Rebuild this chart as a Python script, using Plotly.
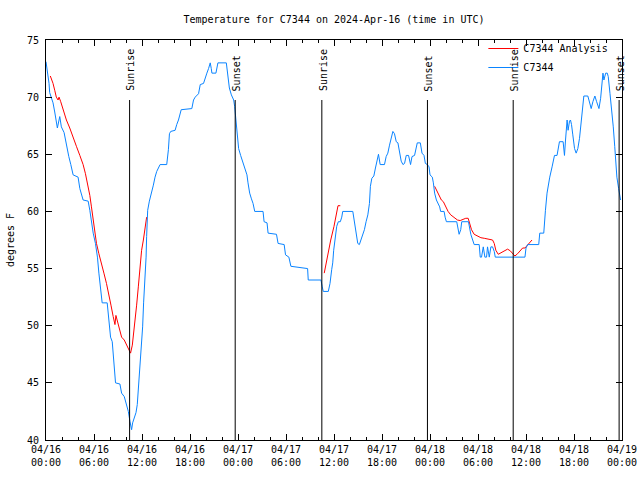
import datetime as dt
import plotly.graph_objects as go

# ---- data (hours after 2024-04-16 00:00 UTC, temperature in F) ----
obs_hours = [0.00, 0.16, 0.29, 0.38, 0.46, 0.66, 0.88, 1.09, 1.29, 1.42, 1.72, 1.92, 2.26, 2.55, 2.85, 3.10,
             3.39, 4.01, 4.23, 4.64, 5.27, 5.48, 5.68, 5.90, 6.18, 6.43, 6.61, 6.81, 7.02, 7.65, 7.86, 8.07,
             8.28, 8.44, 8.57, 8.69, 9.24, 9.45, 9.78, 9.95, 10.12, 10.29, 10.50, 10.70, 10.83, 11.04, 11.25,
             11.41, 11.54, 11.70, 11.83, 11.95, 12.08, 12.20, 12.38, 12.51, 12.58, 12.71, 12.92, 13.21, 13.42,
             13.63, 13.84, 14.26, 15.09, 15.30, 15.43, 15.59, 16.14, 16.34, 16.56, 16.90, 18.23, 18.44, 18.65,
             19.07, 19.28, 19.69, 19.91, 20.11, 20.32, 20.53, 20.66, 20.74, 21.24, 21.49, 22.54, 22.70, 22.92,
             23.17, 23.46, 23.58, 23.80, 24.00, 24.08, 24.33, 24.50, 24.71, 24.92, 25.12, 25.25, 25.46, 25.68,
             25.88, 26.09, 27.13, 27.26, 27.63, 27.76, 28.81, 29.01, 29.77, 29.94, 30.36, 30.61, 32.70, 32.78,
             34.37, 34.53, 34.66, 35.29, 35.50, 35.71, 35.84, 35.96, 36.13, 36.34, 36.54, 36.79, 36.97, 37.09,
             38.35, 38.55, 38.76, 38.97, 39.17, 39.39, 39.60, 39.80, 40.01, 40.23, 40.43, 40.55, 40.73, 40.98,
             41.18, 41.36, 41.56, 41.77, 42.31, 42.52, 42.73, 42.94, 43.15, 43.36, 43.56, 43.78, 43.99, 44.19,
             44.40, 44.62, 44.82, 45.03, 45.32, 45.57, 45.75, 46.07, 46.29, 46.41, 46.79, 47.00, 47.25, 47.42,
             47.67, 47.88, 48.00, 48.29, 48.42, 48.58, 48.80, 49.21, 49.33, 49.76, 49.89, 50.05, 51.34, 51.52,
             51.64, 51.84, 51.97, 52.81, 52.97, 53.10, 53.52, 54.15, 54.28, 54.44, 54.66, 54.86, 55.07, 55.19,
             55.41, 55.61, 55.82, 56.03, 56.16, 59.87, 60.00, 60.21, 61.59, 61.72, 62.22, 62.30, 62.43, 62.63,
             62.76, 62.97, 63.26, 63.56, 63.88, 64.18, 64.64, 64.81, 64.94, 65.14, 65.26, 65.44, 65.56, 65.69,
             65.85, 66.07, 66.27, 66.48, 66.69, 66.89, 67.07, 67.23, 67.73, 67.95, 68.15, 68.36, 68.61, 68.83,
             69.12, 69.33, 69.45, 69.62, 69.74, 69.96, 70.16, 70.28, 70.50, 70.71, 70.91, 71.09, 71.25, 71.36,
             71.58, 71.70, 71.82]
obs_temps = [73.1, 72.4, 71.8, 71.2, 70.4, 70.0, 69.5, 68.7, 68.0, 67.3, 68.3, 67.4, 66.9, 65.7, 64.8, 64.1,
             63.2, 63.0, 62.0, 61.0, 60.9, 60.1, 59.0, 58.1, 57.2, 56.0, 54.6, 53.1, 52.0, 52.0, 50.6, 49.0,
             48.6, 47.4, 46.4, 45.0, 44.9, 44.1, 43.8, 43.4, 42.9, 42.5, 41.6, 40.9, 41.5, 41.9, 42.4,
             43.1, 44.4, 45.5, 47.0, 48.3, 49.9, 52.0, 54.0, 56.0, 57.8, 60.1, 60.9, 61.6, 62.3,
             63.0, 63.5, 64.1, 64.1, 65.4, 66.8, 67.0, 67.1, 67.6, 68.0, 68.9, 69.0, 69.75, 70.0,
             70.3, 71.1, 71.2, 71.8, 72.1, 72.5, 73.0, 72.5, 72.1, 72.1, 73.0, 73.0, 71.8, 70.8,
             70.2, 69.75, 69.2, 67.6, 66.5, 65.5, 64.9, 64.5, 64.1, 63.6, 63.2, 62.5, 61.6, 61.1,
             60.7, 60.0, 60.0, 59.1, 59.0, 58.1, 58.0, 57.2, 57.1, 56.2, 56.0, 55.2, 55.0, 54.0,
             54.0, 53.4, 53.0, 53.0, 53.7, 54.9, 55.5, 56.6, 57.8, 58.7, 59.1, 59.1, 59.5, 60.0,
             60.0, 59.1, 58.2, 57.2, 57.1, 57.5, 58.0, 58.4, 59.1, 59.7, 60.7, 62.2, 62.9, 63.1,
             63.8, 64.4, 65.0, 64.1, 64.1, 64.8, 65.1, 65.8, 66.4, 67.0, 66.8, 66.1, 66.0, 65.2,
             64.4, 64.1, 64.2, 64.9, 64.9, 64.1, 64.8, 64.9, 65.7, 66.0, 66.0, 65.1, 64.9, 64.2,
             64.1, 63.9, 63.2, 63.0, 62.5, 61.6, 61.0, 60.4, 60.0, 60.0, 59.5, 59.1, 59.1, 58.4,
             58.0, 58.4, 59.1, 59.1, 58.5, 58.0, 57.1, 57.1, 56.0, 56.0, 56.9, 56.0, 56.0, 56.9,
             56.0, 56.9, 56.9, 56.5, 56.0, 56.0, 56.8, 57.1, 57.1, 58.1, 58.1, 59.25, 60.1, 61.6,
             62.3, 63.0, 63.9, 64.9, 64.9, 66.1, 66.1, 64.9, 66.25, 68.0, 67.1, 67.9, 68.0, 67.6,
             66.7, 65.5, 65.1, 65.5, 66.4, 67.7, 68.9, 70.1, 70.1, 69.6, 69.0, 69.6, 70.1, 69.6,
             69.0, 69.9, 71.2, 72.1, 71.5, 72.1, 72.1, 71.8, 70.3, 68.9, 67.4, 65.7, 64.2, 63.0,
             62.0, 61.3, 61.0]

# analysis series, three separate runs
ana1_hours = [0.54, 0.88, 1.09, 1.29, 1.51, 1.63, 1.84, 2.13, 2.55, 2.97, 3.39, 3.80, 4.23, 4.64, 4.93, 5.18,
              5.48, 5.68, 5.90, 6.11, 6.31, 6.61, 6.94, 7.24, 7.56, 7.86, 8.12, 8.40, 8.62, 8.74, 9.03, 9.24,
              9.45, 9.78, 10.07, 10.37, 10.57, 10.79, 10.91, 11.13, 11.33, 11.54, 11.75, 11.95, 12.17, 12.38, 12.58]
ana1_temps = [71.85, 71.2, 70.6, 70.0, 69.75, 70.0, 69.6, 68.9, 68.0, 67.3, 66.4, 65.7, 64.9, 64.1, 63.3, 62.5,
              61.4, 60.4, 59.25, 58.1, 57.2, 56.3, 55.5, 54.6, 53.7, 52.8, 51.8, 50.8, 50.1, 50.9, 50.2, 49.6,
              49.0, 48.75, 48.3, 47.9, 47.6, 48.3, 49.0, 50.5, 51.8, 53.4, 55.2, 56.6, 57.5, 58.4, 59.5]
ana2_hours = [34.78, 35.16, 35.59, 36.00, 36.29, 36.50, 36.79]
ana2_temps = [54.6, 56.0, 57.5, 58.7, 59.8, 60.5, 60.5]
ana3_hours = [48.58, 48.92, 49.13, 49.42, 49.67, 49.96, 50.26, 50.59, 51.02, 51.43, 51.77, 52.06, 52.47, 52.77,
              52.97, 53.19, 53.52, 53.94, 54.36, 54.78, 55.19, 55.82, 56.03, 56.23, 56.53, 56.95, 57.36, 57.70,
              58.04, 58.32, 58.61, 58.95, 59.29, 59.58, 59.87, 60.21, 60.46, 60.75]
ana3_temps = [62.2, 61.7, 61.3, 61.0, 60.85, 60.4, 60.0, 59.7, 59.5, 59.25, 59.2, 59.3, 59.4, 59.4,
              59.0, 58.4, 58.0, 57.85, 57.7, 57.65, 57.6, 57.5, 57.2, 56.6, 56.25, 56.4, 56.6, 56.7,
              56.55, 56.3, 56.1, 56.3, 56.55, 56.8, 56.8, 57.1, 57.3, 57.5]

sun_hours = [10.45, 23.65, 34.48, 47.68, 58.40, 71.64]
sun_labels = ["Sunrise", "Sunset", "Sunrise", "Sunset", "Sunrise", "Sunset"]

tick_hours = list(range(0, 73, 6))
tick_labels = ["04/16<br>00:00", "04/16<br>06:00", "04/16<br>12:00", "04/16<br>18:00",
               "04/17<br>00:00", "04/17<br>06:00", "04/17<br>12:00", "04/17<br>18:00",
               "04/18<br>00:00", "04/18<br>06:00", "04/18<br>12:00", "04/18<br>18:00",
               "04/19<br>00:00"]

base = dt.datetime(2024, 4, 16)


def to_time(hours):
    return [None if h is None else base + dt.timedelta(hours=h) for h in hours]


ana_hours = ana1_hours + [None] + ana2_hours + [None] + ana3_hours
ana_temps = ana1_temps + [None] + ana2_temps + [None] + ana3_temps

FONT = "DejaVu Sans Mono"

fig = go.Figure()
fig.add_trace(go.Scatter(x=to_time(ana_hours), y=ana_temps, mode="lines", name="C7344 Analysis",
                         line=dict(color="#ff0000", width=1), connectgaps=False))
fig.add_trace(go.Scatter(x=to_time(obs_hours), y=obs_temps, mode="lines", name="C7344",
                         line=dict(color="#0a84ff", width=1)))

for h, lab in zip(sun_hours, sun_labels):
    t = base + dt.timedelta(hours=h)
    fig.add_shape(type="line", xref="x", yref="paper", x0=t, x1=t, y0=0, y1=0.85,
                  line=dict(color="black", width=1))
    fig.add_annotation(x=t, xref="x", y=0.867, yref="paper", text=lab, textangle=-90,
                       showarrow=False, xanchor="center", yanchor="bottom", xshift=1,
                       font=dict(family=FONT, size=10, color="black"))

fig.update_layout(
    width=640, height=480,
    margin=dict(l=46, r=18, t=40, b=40, autoexpand=False),
    paper_bgcolor="white", plot_bgcolor="white",
    font=dict(family=FONT, size=10, color="black"),
    title=dict(text="Temperature for C7344 on 2024-Apr-16 (time in UTC)", x=0.5, xref="paper",
               xanchor="center", y=1 - 19 / 480, yref="container", yanchor="middle",
               font=dict(family=FONT, size=10, color="black")),
    showlegend=True,
    legend=dict(x=0.985, xanchor="right", y=1.015, yanchor="top", bgcolor="rgba(0,0,0,0)",
                font=dict(family=FONT, size=10), tracegroupgap=0, itemwidth=30),
)
fig.update_xaxes(
    range=[base, base + dt.timedelta(hours=72)],
    tickmode="array", tickvals=to_time(tick_hours), ticktext=tick_labels,
    ticks="inside", ticklen=6, tickcolor="black",
    minor=dict(ticks="inside", ticklen=3, tickcolor="black", tick0=base, dtick=2 * 3600 * 1000),
    showline=True, linecolor="black", linewidth=1, mirror="allticks",
    showgrid=False, zeroline=False, automargin=False,
)
fig.update_yaxes(
    range=[40, 75], dtick=5, tick0=40,
    ticks="inside", ticklen=6, tickcolor="black",
    showline=True, linecolor="black", linewidth=1, mirror="allticks",
    showgrid=False, zeroline=False, ticklabelstandoff=4, automargin=False,
    title=dict(text="degrees F", standoff=10, font=dict(family=FONT, size=10)),
)

fig.write_html(
    "out.html",
    config={"displayModeBar": False},
    post_script="document.body.style.margin='0px';document.body.style.overflow='hidden';",
)
